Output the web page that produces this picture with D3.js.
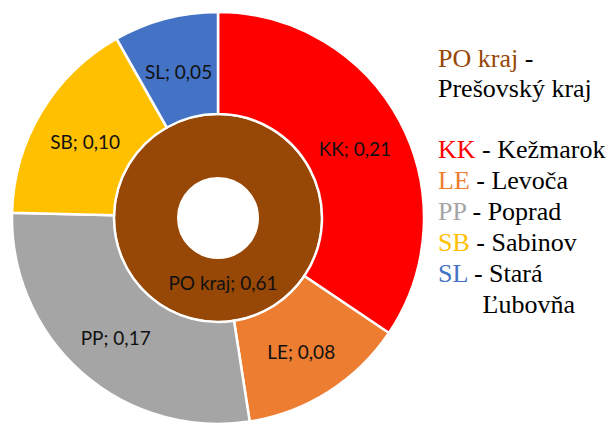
<!DOCTYPE html>
<html>
<head>
<meta charset="utf-8">
<script src="https://cdn.jsdelivr.net/npm/d3@7"></script>
<style>
  body { margin: 0; background: #fff; }
  svg { display: block; }
</style>
</head>
<body>
<script>
// districts of the Prešov region, outer ring
const districtCodes = ['KK', 'LE', 'PP', 'SB', 'SL'];
const districtNames = ['Kežmarok', 'Levoča', 'Poprad', 'Sabinov', 'Stará Ľubovňa'];
const districtValues = [0.21, 0.08, 0.17, 0.10, 0.05];
const districtColors = ['#FF0000', '#ED7D31', '#A5A5A5', '#FFC000', '#4472C4'];

// region, inner ring
const regionCode = 'PO kraj';
const regionName = 'Prešovský kraj';
const regionValue = 0.61;
const regionColor = '#974706';

const width = 612;
const height = 423;
const cx = 218;
const cy = 218;
const rHole = 40;
const rMid = 104;
const rOuter = 206;

const svg = d3.select('body')
  .append('svg')
  .attr('width', width)
  .attr('height', height);

const fmt = d3.formatLocale({ decimal: ',', thousands: ' ', grouping: [3], currency: ['', ''] }).format('.2f');

const chart = svg.append('g')
  .attr('transform', `translate(${cx},${cy})`);

const outerData = districtCodes.map((c, i) => ({ code: c, value: districtValues[i], color: districtColors[i] }));

const pie = d3.pie()
  .sort(null)
  .value((d) => d.value)
  .startAngle(0)
  .endAngle(2 * Math.PI);

const outerArc = d3.arc().innerRadius(rMid).outerRadius(rOuter);
const innerArc = d3.arc().innerRadius(rHole).outerRadius(rMid);

// inner ring
const innerPie = pie([{ code: regionCode, value: regionValue, color: regionColor }]);

chart.selectAll('.inner')
  .data(innerPie)
  .enter().append('path')
  .attr('class', 'inner')
  .attr('d', innerArc)
  .style('fill', (d) => d.data.color)
  .style('stroke', '#fff')
  .style('stroke-width', 2);

// outer ring
const outerPie = pie(outerData);

chart.selectAll('.outer')
  .data(outerPie)
  .enter().append('path')
  .attr('class', 'outer')
  .attr('d', outerArc)
  .style('fill', (d) => d.data.color)
  .style('stroke', '#fff')
  .style('stroke-width', 2.5);

// data labels
chart.selectAll('.olabel')
  .data(outerPie)
  .enter().append('text')
  .attr('class', 'olabel')
  .attr('transform', (d) => `translate(${outerArc.centroid(d)})`)
  .attr('text-anchor', 'middle')
  .attr('dy', '0.55em')
  .attr('font-family', 'Lato, "Open Sans", sans-serif')
  .style('font-size', '19px')
  .style('fill', '#111')
  .text((d) => `${d.data.code}; ${fmt(d.data.value)}`);

chart.selectAll('.ilabel')
  .data(innerPie)
  .enter().append('text')
  .attr('class', 'ilabel')
  .attr('transform', (d) => {
    const c = innerArc.centroid(d);
    return `translate(${c[0] + 5},${c[1] - 7})`;
  })
  .attr('text-anchor', 'middle')
  .attr('dy', '0.35em')
  .attr('font-family', 'Lato, "Open Sans", sans-serif')
  .style('font-size', '19px')
  .style('fill', '#111')
  .text((d) => `${d.data.code}; ${fmt(d.data.value)}`);

// legend
const legend = svg.append('g')
  .attr('transform', 'translate(438,0)')
  .attr('font-family', '"Liberation Serif", "Times New Roman", serif')
  .attr('font-size', 26);

const head = legend.append('text').attr('y', 67);
head.append('tspan').style('fill', regionColor).text(regionCode);
head.append('tspan').style('fill', '#000').text(' -');
legend.append('text').attr('y', 97).style('fill', '#000').text(regionName);

const rowH = 31;
let y = 158;
districtCodes.forEach((c, i) => {
  const t = legend.append('text').attr('y', y);
  t.append('tspan').style('fill', districtColors[i]).text(c);
  t.append('tspan').style('fill', '#000').text(' - ');
  const indent = t.node().getComputedTextLength();
  const words = districtNames[i].split(' ');
  const name = t.append('tspan').style('fill', '#000').text(districtNames[i]);
  if (indent + name.node().getComputedTextLength() > width - 438 && words.length > 1) {
    name.text(words[0]);
    y += rowH;
    legend.append('text')
      .attr('x', indent)
      .attr('y', y)
      .style('fill', '#000')
      .text(words.slice(1).join(' '));
  }
  y += rowH;
});
</script>
</body>
</html>
